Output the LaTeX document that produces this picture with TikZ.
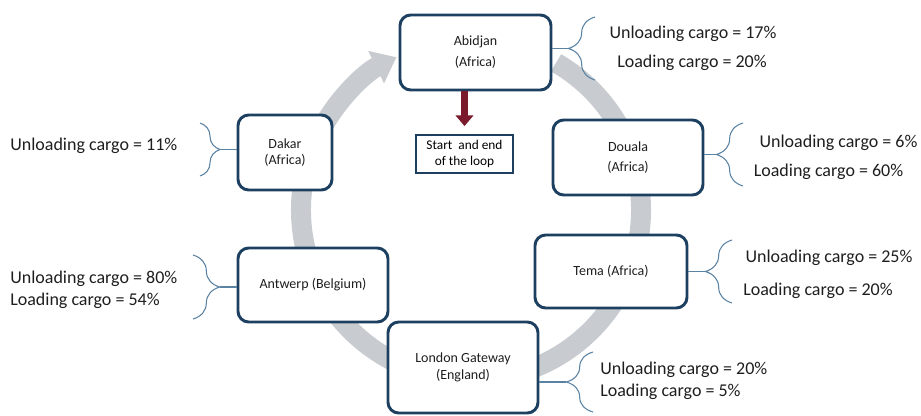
\documentclass[tikz,border=0pt]{standalone}
\usepackage{fontspec}
\setmainfont{Carlito}
\usetikzlibrary{arrows.meta}
\usetikzlibrary{decorations.pathreplacing}
\definecolor{portblue}{HTML}{1D4060}
\definecolor{bracegray}{HTML}{5A82A2}
\definecolor{loopgray}{HTML}{C8CCD1}
\definecolor{startred}{HTML}{7A1A2C}
\definecolor{inktext}{HTML}{1E1E1E}

\begin{document}
\begin{tikzpicture}[x=0.75pt, y=0.75pt,
  port/.style={draw=portblue, line width=2.2pt, rounded corners=8pt, fill=white,
    align=center, text=inktext, font=\fontsize{10.5}{13}\selectfont, inner sep=0pt},
  startbox/.style={draw=portblue, line width=1.4pt, fill=white, align=center,
    text=black, font=\fontsize{10}{12.5}\selectfont,
    minimum width=72.75pt, minimum height=28.5pt, inner sep=0pt},
  cargo/.style={text=inktext, font=\fontsize{13.5}{16}\selectfont, inner sep=0pt},
  curly/.style={draw=bracegray, line width=0.8pt, decorate,
    decoration={brace, amplitude=20pt}},
  link/.style={draw=bracegray, line width=0.8pt},
  loop/.style={draw=loopgray, line width=15pt, -{Triangle[length=17pt, width=26pt]}},
  startarrow/.style={draw=startred, line width=5pt, -{Triangle[length=8pt, width=13pt]}}]
  \useasboundingbox (0,0) rectangle (921,-415);

  % the loop
  \coordinate (hub) at (471,-210);
  \draw[loop] (hub) ++(60:170) arc[start angle=60, end angle=-244, radius=170];

  % ports
  \node[port, minimum width=113.25pt, minimum height=56.25pt] (Abidjan) at (475.5,-52.5)
    {Abidjan\\[2.75pt](Africa)};
  \node[port, minimum width=112.5pt, minimum height=56.25pt] (Douala) at (628,-157.5)
    {Douala\\[2pt](Africa)};
  \node[port, minimum width=114pt, minimum height=54.75pt] (Tema) at (611,-271.5)
    {Tema (Africa)};
  \node[port, minimum width=112.5pt, minimum height=68.25pt] (London) at (463,-367.5)
    {London Gateway\\(England)};
  \node[port, minimum width=112.5pt, minimum height=55.5pt] (Antwerp) at (313,-285)
    {Antwerp (Belgium)};
  \node[port, minimum width=70.5pt, minimum height=56.25pt] (Dakar) at (285,-152.5)
    {Dakar\\[-1.5pt](Africa)};

  \node[startbox] (Start) at (464.5,-154) {Start~ and end\\of the loop};
  \draw[startarrow, shorten >=6pt] (Start.north |- Abidjan.south) -- (Start.north);

  % braces
  \draw[curly] (595,-80) -- (595,-17);
  \coordinate (bAbidjan) at (568,-48.5);
  \draw[link] (Abidjan.east |- bAbidjan) -- (bAbidjan);

  \draw[curly] (743,-186) -- (743,-123);
  \coordinate (bDouala) at (716,-154.5);
  \draw[link] (Douala.east |- bDouala) -- (bDouala);

  \draw[curly] (732,-303) -- (732,-240);
  \coordinate (bTema) at (705,-271.5);
  \draw[link] (Tema.east |- bTema) -- (bTema);

  \draw[curly] (593,-412) -- (593,-352);
  \coordinate (bLondon) at (566,-382);
  \draw[link] (London.east |- bLondon) -- (bLondon);

  \draw[curly, decoration={amplitude=15pt}] (200,-123) -- (200,-176);
  \coordinate (bDakar) at (220,-149.5);
  \draw[link] (Dakar.west |- bDakar) -- (bDakar);

  \draw[curly] (193,-255) -- (193,-319);
  \coordinate (bAntwerp) at (220,-287);
  \draw[link] (Antwerp.west |- bAntwerp) -- (bAntwerp);

  % cargo shares
  \node[cargo] (uAbidjan) at (693,-34) {Unloading cargo = 17\%};
  \node[cargo] (lAbidjan) at (692,-63) {Loading cargo = 20\%};
  \node[cargo] (uDouala) at (838.5,-143) {Unloading cargo = 6\%};
  \node[cargo] (lDouala) at (828.5,-172) {Loading cargo = 60\%};
  \node[cargo] (uTema) at (829,-258) {Unloading cargo = 25\%};
  \node[cargo] (lTema) at (818,-291) {Loading cargo = 20\%};
  \node[cargo, anchor=west] (uLondon) at (600,-370) {Unloading cargo = 20\%};
  \node[cargo, anchor=west] (lLondon) at (600,-392) {Loading cargo = 5\%};
  \node[cargo, anchor=west] (uDakar) at (10,-146) {Unloading cargo = 11\%};
  \node[cargo, anchor=west] (uAntwerp) at (10,-279) {Unloading cargo = 80\%};
  \node[cargo, anchor=west] (lAntwerp) at (10,-301) {Loading cargo = 54\%};
\end{tikzpicture}
\end{document}
